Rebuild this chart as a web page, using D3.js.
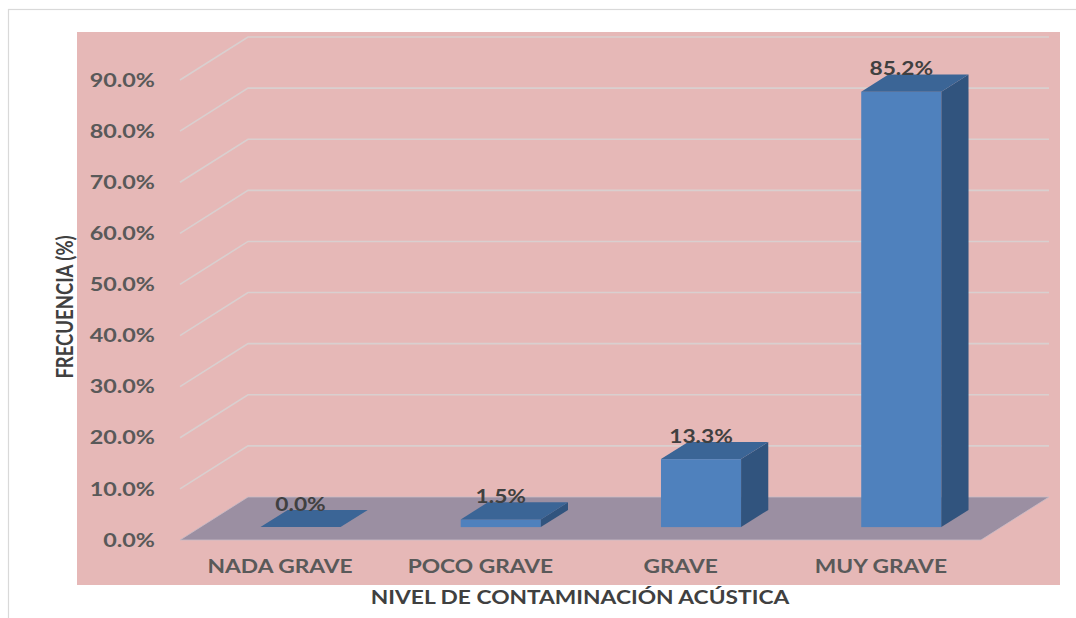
<!DOCTYPE html>
<html><head><meta charset="utf-8">
<script src="https://cdn.jsdelivr.net/npm/d3@7/dist/d3.min.js"></script>
<style>body{margin:0;background:#fff;}svg{display:block;font-family:Lato,"Open Sans",sans-serif;font-weight:bold;}</style>
</head><body>
<svg id="c" width="1076" height="618"></svg>
<script>
const categories = ["NADA GRAVE","POCO GRAVE","GRAVE","MUY GRAVE"];
const values = [0.0, 1.5, 13.3, 85.2];
const ticks = [0,10,20,30,40,50,60,70,80,90];
const yTitle = "FRECUENCIA (%)";
const xTitle = "NIVEL DE CONTAMINACIÓN ACÚSTICA";

const svg = d3.select("#c");
const DX = 68, DY = -43;          // depth of the floor
const frontL = 180, frontR = 981, baseY = 540;
const SX = 1.23;                  // horizontal stretch of the text

function label(parent, px, py, txt, opts){
  const t = parent.append("text")
    .attr("transform", `translate(${px},${py}) scale(${SX},1)` + (opts.rotate ? ` rotate(${opts.rotate})` : ""))
    .attr("text-anchor", opts.anchor || "middle")
    .attr("fill", opts.fill || "#595959")
    .attr("font-size", opts.size || 19)
    .text(txt);
  if (opts.dy) t.attr("dy", opts.dy);
  return t;
}

// frame
svg.append("rect").attr("x",8.5).attr("y",9.5).attr("width",1080).attr("height",620)
  .attr("fill","#fff").attr("stroke","#d9d9d9").attr("stroke-width",1.2);
// plot area
svg.append("rect").attr("x",77).attr("y",32).attr("width",983).attr("height",553).attr("fill","#e6b8b7");

const x = d3.scaleBand().domain(categories).range([frontL, frontR]).paddingInner(0.6).paddingOuter(0.3);
const y = d3.scaleLinear().domain([0,90]).range([baseY, 80]);

// gridlines (back wall + left wall)
ticks.filter(t=>t>0).forEach(t=>{
  const yy = y(t);
  svg.append("polyline")
    .attr("points",`${frontL},${yy} ${frontL+DX},${yy+DY} ${frontR+DX},${yy+DY}`)
    .attr("fill","none").attr("stroke","#d9cfcf").attr("stroke-width",1.6);
});

// floor
svg.append("polygon")
  .attr("points",`${frontL},${baseY} ${frontR},${baseY} ${frontR+DX},${baseY+DY} ${frontL+DX},${baseY+DY}`)
  .attr("fill","#9b8fa2").attr("stroke","#c9bcc6").attr("stroke-width",0.8);

// y tick labels
const tg = svg.append("g");
ticks.forEach(t => label(tg, 155, y(t), t.toFixed(1)+"%", {anchor:"end", dy:"0.35em", size:19}));

// bars
const d0 = 0.3, dd = 0.4;
const ox = DX*d0, oy = DY*d0, bx = DX*dd, by = DY*dd;
const g = svg.append("g");
const lg = svg.append("g");
categories.forEach((c,i)=>{
  const v = values[i];
  const x0 = x(c)+ox, x1 = x(c)+x.bandwidth()+ox;
  const bot = baseY+oy, top = y(v)+oy;
  if (v > 0) {
    g.append("rect").attr("x",x0).attr("y",top).attr("width",x1-x0).attr("height",bot-top).attr("fill","#4f81bd");
    g.append("polygon").attr("points",`${x1},${top} ${x1+bx},${top+by} ${x1+bx},${bot+by} ${x1},${bot}`).attr("fill","#31547e");
  }
  g.append("polygon").attr("points",`${x0},${top} ${x1},${top} ${x1+bx},${top+by} ${x0+bx},${top+by}`).attr("fill","#3b6596");
  label(lg, (x0+x1)/2, top+by+1, v.toFixed(1)+"%", {fill:"#404040", size:18.5});
});

// category labels
const cg = svg.append("g");
categories.forEach(c => label(cg, x(c)+x.bandwidth()/2, 567, c, {dy:"0.35em", size:18.5}));

// axis titles
label(svg, 580, 598, xTitle, {fill:"#404040", size:18.5, dy:"0.35em"});
label(svg, 65, 307, yTitle, {fill:"#404040", size:18.5, dy:"0.35em", rotate:-90});
</script>
</body></html>
